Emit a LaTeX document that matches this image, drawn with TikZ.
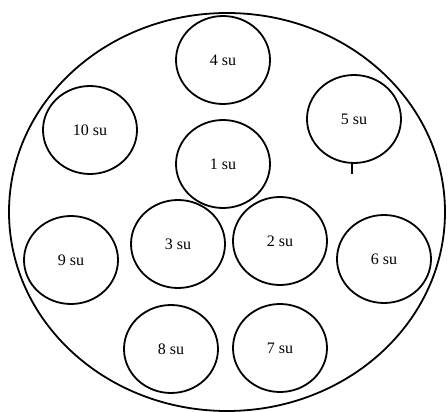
\documentclass[tikz,border=0pt]{standalone}
\usepackage{fontspec}
\setmainfont{Liberation Serif}
\usetikzlibrary{shapes.geometric}

\begin{document}
\begin{tikzpicture}[x=1pt,y=-1pt,
	line width=1.8pt,
	su/.style={draw,ellipse,minimum width=94pt,minimum height=88pt,inner sep=0pt,
		font=\fontsize{16}{18}\selectfont}]
%
	\useasboundingbox (0,0) rectangle (448,412);
	\draw (227,212) ellipse [x radius=218, y radius=199];
%
	\node[su] (n4) at (223,60) {4 su};
	\node[su] (n10) at (90,130) {10 su};
	\node[su] (n1) at (223,164) {1 su};
	\node[su] (n5) at (354,119) {5 su};
	\node[su] (n3) at (178,244) {3 su};
	\node[su] (n2) at (280,241) {2 su};
	\node[su] (n9) at (71,260) {9 su};
	\node[su] (n6) at (384,259) {6 su};
	\node[su] (n8) at (171,349) {8 su};
	\node[su] (n7) at (280,348) {7 su};
%
	\draw[line width=1.4pt] (n5.south) ++(-2,0) -- ++(0,10);
%
\end{tikzpicture}
\end{document}
